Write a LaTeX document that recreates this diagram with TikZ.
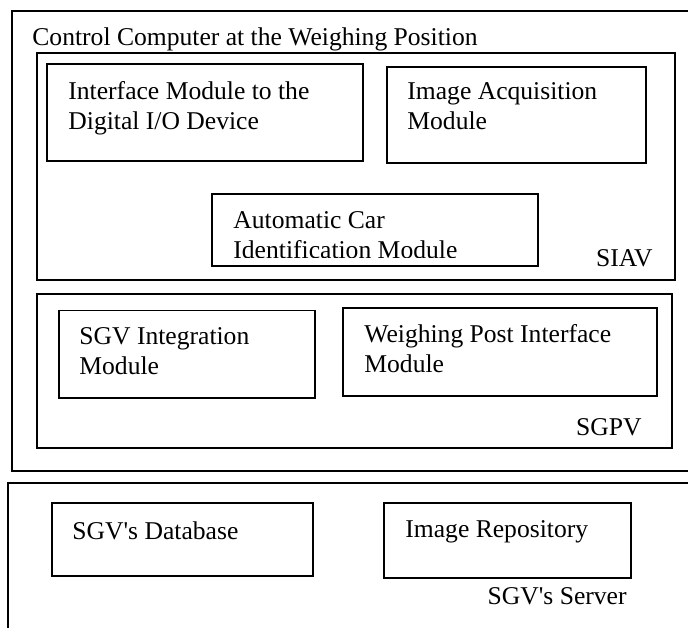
\documentclass[tikz,border=0pt]{standalone}
\usepackage{fontspec}
\setmainfont{Liberation Serif}

\tikzset{
  box/.style={draw, line width=0.85pt},
  modtext/.style={anchor=north west, inner sep=0pt, align=left,
    font=\fontsize{12.8}{15}\selectfont},
  tag/.style={anchor=base east, inner sep=0pt,
    font=\fontsize{12.8}{15}\selectfont},
}

\begin{document}
\begin{tikzpicture}[x=0.5pt, y=-0.5pt]

      % page frame, pixel coordinates from the top left
      \clip (0,0) rectangle (688,627);

      % control computer with its two subsystems
      \draw[box] (12,11) rectangle (700,471);
      \node[anchor=base west, inner sep=0pt, font=\fontsize{12.8}{15}\selectfont]
        (ctrl) at (32,45) {Control Computer at the Weighing Position};

      %% SIAV
      \draw[box] (37,53) rectangle (675,280);
      \node[tag] (siav) at (653,266) {SIAV};

      \draw[box] (47,64) rectangle (363,161);
      \node[modtext] (iface) at (68,81) {Interface Module to the\\Digital I/O Device};

      \draw[box] (387,67) rectangle (646,163);
      \node[modtext] (imgacq) at (407,82.5) {Image Acquisition\\Module};

      \draw[box] (212,194) rectangle (538,266);
      \begin{scope}
        % lower line is cut off by the box
        \clip (212,194) rectangle (538,257);
        \node[modtext] (carid) at (233,211) {Automatic Car\\Identification Module};
      \end{scope}

      %% SGPV
      \draw[box] (37,294) rectangle (672,448);
      \node[tag] (sgpv) at (642,435) {SGPV};

      \draw[box] (59,310.5) rectangle (315,398);
      \node[modtext] (sgvint) at (79,327.5) {SGV Integration\\Module};

      \draw[box] (343,308) rectangle (657,396);
      \node[modtext] (wpost) at (364,324.5) {Weighing Post Interface\\Module};

      % server box
      \draw[box] (8,483) rectangle (700,640);
      \node[tag] (server) at (627,604) {SGV\textquotesingle s Server};

      \draw[box] (52,503) rectangle (313,576);
      \node[modtext] (db) at (72,521) {SGV\textquotesingle s Database};

      \draw[box] (384,503) rectangle (631,578);
      \node[modtext] (repo) at (405,520) {Image Repository};

\end{tikzpicture}
\end{document}
